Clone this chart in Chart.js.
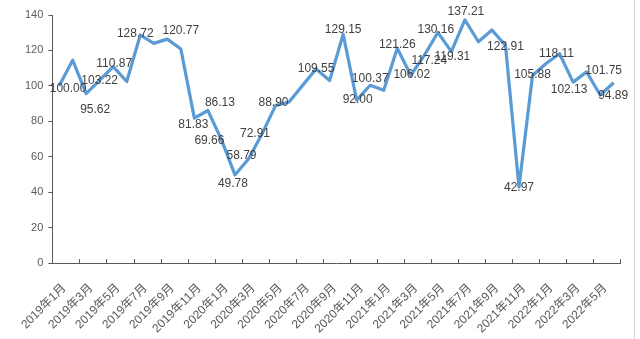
<!DOCTYPE html>
<html>
<head>
<meta charset="utf-8">
<script src="https://cdn.jsdelivr.net/npm/chart.js@4/dist/chart.umd.min.js"></script>
<style>
  html, body { margin: 0; padding: 0; background: #fff; }
  #wrap { position: relative; width: 634px; height: 339px; border-right: 1px solid #d6d6d6; }
</style>
</head>
<body>
<div id="wrap"><canvas id="indexChart"></canvas></div>
<script>
// Monthly categories, Jan 2019 - Jun 2022
const months = [
  '2019年1月', '2019年2月', '2019年3月', '2019年4月', '2019年5月', '2019年6月',
  '2019年7月', '2019年8月', '2019年9月', '2019年10月', '2019年11月', '2019年12月',
  '2020年1月', '2020年2月', '2020年3月', '2020年4月', '2020年5月', '2020年6月',
  '2020年7月', '2020年8月', '2020年9月', '2020年10月', '2020年11月', '2020年12月',
  '2021年1月', '2021年2月', '2021年3月', '2021年4月', '2021年5月', '2021年6月',
  '2021年7月', '2021年8月', '2021年9月', '2021年10月', '2021年11月', '2021年12月',
  '2022年1月', '2022年2月', '2022年3月', '2022年4月', '2022年5月', '2022年6月'
];

const values = [
  100.00, 114.5, 95.62, 103.22, 110.87, 102.5,
  128.72, 124.0, 126.4, 120.77, 81.83, 86.13,
  69.66, 49.78, 58.79, 72.91, 88.90, 90.9,
  100.3, 109.55, 103.0, 129.15, 92.00, 100.37,
  97.5, 121.26, 106.02, 117.24, 130.16, 119.31,
  137.21, 124.9, 131.5, 122.91, 42.97, 105.88,
  112.6, 118.11, 102.13, 107.9, 94.89, 101.75
];

// indices of points that carry a value label
const labelled = [0, 2, 3, 4, 6, 9, 10, 11, 12, 13, 14, 15, 16, 19, 21, 22, 23,
  25, 26, 27, 28, 29, 30, 33, 34, 35, 37, 38, 40, 41];

// label centre offset from its point, [dx, dy] in px
const labelOffsets = [
  [9, 3], [9, 16], [0, 0], [1, -3], [-5, -1], [0, -18], [-1, 7], [12, -8],
  [-12, 1], [-2, 9], [-7, -3], [-7, 0], [-2, -3], [0, 0], [0, -5], [1, 0],
  [0, -7], [0, -4], [1, -1], [5, 5], [-2, -3], [1, 5], [1, -8], [0, 1],
  [0, 1], [0, -1], [-3, 0], [-4, 8], [13, 1], [-10, -12]
];

const yTicks = { min: 0, max: 140, step: 20 };

const yFont = { family: '"Liberation Sans", "Noto Sans CJK SC", sans-serif', size: 11 };
const xFont = { family: '"Liberation Sans", "Noto Sans CJK SC", sans-serif', size: 12 };

// value labels drawn on top of the line
const valueLabels = {
  id: 'valueLabels',
  afterDatasetsDraw(chart) {
    const ctx = chart.ctx;
    const points = chart.getDatasetMeta(0).data;
    ctx.save();
    ctx.font = '12px "Liberation Sans", Arial, sans-serif';
    ctx.fillStyle = '#404040';
    ctx.textAlign = 'center';
    ctx.textBaseline = 'middle';
    labelled.forEach((idx, k) => {
      const p = points[idx];
      const [dx, dy] = labelOffsets[k];
      ctx.fillText(values[idx].toFixed(2), p.x + dx, p.y + dy);
    });
    ctx.restore();
  }
};

// inward tick marks on the category axis, every second boundary
const innerTicks = {
  id: 'innerTicks',
  afterDraw(chart) {
    const xs = chart.scales.x;
    const ctx = chart.ctx;
    const half = (xs.getPixelForValue(1) - xs.getPixelForValue(0)) / 2;
    const y = chart.chartArea.bottom;
    ctx.save();
    ctx.strokeStyle = '#595959';
    ctx.lineWidth = 1;
    ctx.beginPath();
    for (let i = 0; i <= months.length; i += 2) {
      const x = Math.round(xs.getPixelForValue(Math.min(i, months.length - 1)) + (i < months.length ? -half : half)) + 0.5;
      ctx.moveTo(x, y);
      ctx.lineTo(x, y - 4);
    }
    ctx.stroke();
    ctx.restore();
  }
};

new Chart(document.getElementById('indexChart'), {
  type: 'line',
  data: {
    labels: months,
    datasets: [{
      data: values,
      borderColor: '#5b9bd5',
      borderWidth: 3.2,
      borderJoinStyle: 'round',
      pointRadius: 0,
      tension: 0,
      fill: false
    }]
  },
  options: {
    responsive: true,
    maintainAspectRatio: false,
    animation: false,
    layout: { padding: { top: 15, left: 20, right: 12, bottom: -7 } },
    plugins: {
      legend: { display: false },
      tooltip: { enabled: false }
    },
    scales: {
      x: {
        offset: true,
        grid: { display: false },
        border: { display: true, color: '#595959', width: 1 },
        ticks: {
          autoSkip: false,
          maxRotation: 45,
          minRotation: 45,
          color: '#595959',
          font: xFont,
          padding: 10,
          labelOffset: 5,
          callback: (v, i) => (i % 2 === 0 ? months[i] : '')
        }
      },
      y: {
        min: yTicks.min,
        max: yTicks.max,
        grid: { drawOnChartArea: false, tickLength: 4, color: '#595959' },
        border: { display: true, color: '#595959', width: 1 },
        ticks: {
          stepSize: yTicks.step,
          color: '#595959',
          font: yFont,
          padding: 5
        }
      }
    }
  },
  plugins: [valueLabels, innerTicks]
});
</script>
</body>
</html>
